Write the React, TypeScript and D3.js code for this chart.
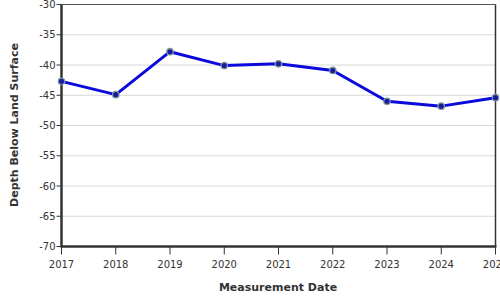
import React from "react";
import * as d3 from "d3";

const years = [2017, 2018, 2019, 2020, 2021, 2022, 2023, 2024, 2025];
const depths = [-42.7, -44.9, -37.8, -40.1, -39.8, -40.9, -46.0, -46.8, -45.4];
const yTicks = [-30, -35, -40, -45, -50, -55, -60, -65, -70];

const W = 500, H = 300;
const L = 61.5, R = 495.5, T = 4.5, B = 246.5;
const font = "DejaVu Sans, Verdana, sans-serif";

export default function App() {
  const x = d3.scaleLinear().domain([2017, 2025]).range([L, R]);
  const y = d3.scaleLinear().domain([-70, -30]).range([B, T]);
  const line = d3.line<number>().x((_, i) => x(years[i])).y((d) => y(d));
  return (
    <svg width={W} height={H} style={{ position: "absolute", left: 0, top: 0 }} fontFamily={font}>
      <rect x={0} y={0} width={W} height={H} fill="#fff" />
      {yTicks.map((t) => (
        <line key={"g" + t} x1={L} x2={R} y1={y(t)} y2={y(t)} stroke="#d8d8d8" strokeWidth={1} />
      ))}
      <line x1={L} x2={R} y1={T} y2={T} stroke="#555" strokeWidth={1} />
      <line x1={R} x2={R} y1={T} y2={B} stroke="#333" strokeWidth={1.5} />
      {yTicks.map((t) => (
        <g key={"y" + t}>
          <line x1={L - 5} x2={L} y1={y(t)} y2={y(t)} stroke="#333" strokeWidth={1} />
          <text x={L - 6} y={y(t)} dy="0.35em" textAnchor="end" fontSize={10} fill="#333">
            {t}
          </text>
        </g>
      ))}
      {years.map((yr) => (
        <g key={"x" + yr}>
          <line x1={x(yr)} x2={x(yr)} y1={B} y2={B + 8} stroke="#333" strokeWidth={1} />
          <text x={x(yr)} y={B + 21} textAnchor="middle" fontSize={10} fill="#333">
            {yr}
          </text>
        </g>
      ))}
      <line x1={L} x2={L} y1={T} y2={B + 1} stroke="#333" strokeWidth={2.5} />
      <line x1={L} x2={R + 1} y1={B} y2={B} stroke="#333" strokeWidth={2.5} />
      <path d={line(depths) || ""} fill="none" stroke="#0a0adc" strokeWidth={3} strokeLinejoin="round" />
      {depths.map((d, i) => (
        <circle key={"p" + i} cx={x(years[i])} cy={y(d)} r={3.2} fill="#1a1aa0" stroke="#7f9a9a" strokeWidth={1.3} />
      ))}
      <text x={278} y={291} textAnchor="middle" fontSize={11} fontWeight="bold" fill="#333">
        Measurement Date
      </text>
      <text transform={`translate(18,125) rotate(-90)`} textAnchor="middle" fontSize={11} fontWeight="bold" fill="#333">
        Depth Below Land Surface
      </text>
    </svg>
  );
}
